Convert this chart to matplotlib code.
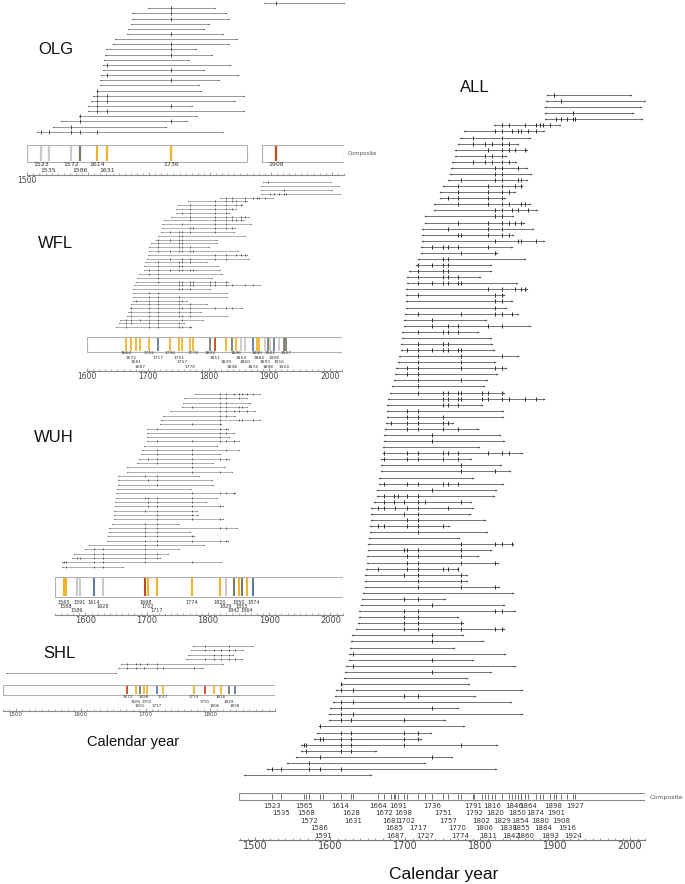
import matplotlib
matplotlib.use("Agg")
import matplotlib.pyplot as plt
from matplotlib.patches import Rectangle
from matplotlib.ticker import MultipleLocator

# ------------------------------------------------------------------ data
# OLG site: series listed top -> bottom (latest inner year first)
olg_start = [1888, 1699, 1672, 1672, 1670, 1665, 1663, 1644, 1641, 1629, 1628, 1626, 1625,
             1625, 1621, 1620, 1619, 1614, 1608, 1604, 1600, 1599, 1585, 1555, 1542, 1516]
olg_end = [2020, 1808, 1827, 1832, 1799, 1790, 1821, 1844, 1832, 1777, 1804, 1765, 1833,
           1790, 1846, 1815, 1782, 1785, 1856, 1841, 1771, 1856, 1778, 1763, 1727, 1821]
olg_scars = [[1908], [1736], [1736], [1736], [], [], [1736], [], [1736], [1736], [1736], [],
             [1631], [1736], [1631], [1736], [], [1614], [1614, 1631], [1614, 1631],
             [1614, 1736], [1614, 1631], [1586], [1586, 1736], [1572],
             [1523, 1535, 1572, 1586, 1614]]
olg_comp_years = [1523, 1535, 1572, 1586, 1614, 1631, 1736, 1908]
olg_comp_codes = ['l', 'l', 'l', 'g', 'o', 'o', 'o', 'r']
olg_record_spans = [(1500, 1861), (1886, 2020)]

# WFL site
wfl_start = [1889, 1887, 1886, 1886, 1819, 1767, 1750, 1747, 1746, 1738, 1726, 1723, 1723,
             1721, 1717, 1714, 1705, 1702, 1702, 1701, 1698, 1696, 1694, 1694, 1686, 1683,
             1680, 1677, 1676, 1676, 1676, 1675, 1673, 1670, 1668, 1665, 1654, 1653, 1648]
wfl_end = [2001, 2015, 2004, 2016, 1906, 1863, 1856, 1846, 1833, 1866, 1858, 1870, 1844,
           1842, 1860, 1814, 1814, 1800, 1849, 1863, 1866, 1797, 1816, 1819, 1822, 1805,
           1832, 1885, 1803, 1830, 1830, 1764, 1797, 1856, 1788, 1830, 1791, 1759, 1771]
wfl_scars = [
    [1898], [], [1924], [1901, 1908, 1916, 1924, 1927],
    [1829, 1838, 1860, 1874, 1880, 1884, 1893],
    [1811, 1829, 1838, 1846, 1860],
    [1770, 1811, 1829, 1846, 1854],
    [1770, 1811, 1829, 1838],
    [1757, 1770, 1811, 1829],
    [1770, 1811, 1829, 1838, 1854, 1860],
    [1770, 1811, 1829, 1838, 1846, 1854],
    [1757, 1811, 1829],
    [1770, 1774, 1811, 1829, 1838],
    [1736, 1751, 1757, 1770, 1811],
    [1751, 1757],
    [1717, 1736, 1751, 1757],
    [1717, 1751, 1757],
    [1717, 1751, 1757, 1770],
    [1717, 1736, 1751, 1757, 1770, 1774],
    [1811, 1829, 1846, 1854, 1860],
    [1736, 1757, 1770, 1811, 1829],
    [1717, 1751, 1757, 1770],
    [1717, 1751, 1757],
    [1702, 1717, 1736, 1751, 1757, 1770, 1774],
    [1702, 1717],
    [1717],
    [1717, 1751, 1757, 1770, 1774, 1802, 1811, 1829],
    [1751, 1757, 1770, 1774, 1802, 1811, 1829, 1838, 1860, 1874],
    [1751, 1757, 1770],
    [1702, 1717],
    [1702, 1717, 1751],
    [1681, 1702, 1717, 1751, 1757],
    [1702, 1717, 1751, 1770],
    [1672, 1702, 1717, 1751, 1757, 1770, 1811, 1829, 1838],
    [1672, 1702, 1717, 1751, 1770],
    [1672, 1702, 1717, 1751, 1757, 1770],
    [1664, 1672, 1687, 1702, 1717, 1757],
    [1664, 1672, 1702, 1717, 1751],
    [1664, 1702, 1717, 1751, 1757, 1770]]
wfl_comp_years = [1664, 1672, 1681, 1687, 1702, 1717, 1736, 1751, 1757, 1770, 1774, 1802,
                  1811, 1829, 1838, 1846, 1854, 1860, 1874, 1880, 1884, 1893, 1898, 1901,
                  1908, 1916, 1924, 1927]
wfl_comp_codes = ['o', 'o', 'o', 'o', 'o', 'b', 'o', 'o', 'o', 'o', 'o', 'g',
                  'r', 'o', 'g', 'o', 'l', 'l', 'b', 'o', 'o', 'l', 'g', 'l',
                  'b', 'l', 'g', 'g']
wfl_record_spans = [(1600, 2020)]

# WUH site
wuh_start = [1779, 1761, 1760, 1757, 1738, 1727, 1723, 1721, 1701, 1701, 1701, 1700, 1696,
             1692, 1690, 1688, 1685, 1668, 1668, 1654, 1654, 1653, 1652, 1650, 1650, 1649,
             1649, 1647, 1646, 1646, 1643, 1638, 1638, 1637, 1635, 1606, 1599, 1582, 1578,
             1561, 1561]
wuh_end = [1885, 1863, 1868, 1863, 1876, 1844, 1885, 1822, 1832, 1842, 1835, 1850, 1814,
           1850, 1820, 1834, 1809, 1828, 1840, 1786, 1806, 1809, 1772, 1844, 1814, 1797,
           1824, 1782, 1783, 1825, 1753, 1847, 1770, 1777, 1832, 1793, 1753, 1734, 1721,
           1822, 1661]
wuh_scars = [
    [1820, 1829, 1842, 1850, 1855, 1864, 1874],
    [1820, 1829, 1850],
    [1820, 1829],
    [1774, 1820, 1829, 1850, 1855],
    [1820, 1829, 1842, 1850, 1864],
    [1820, 1829],
    [1820, 1850, 1855, 1874],
    [1774, 1820],
    [1717, 1820, 1829],
    [1820, 1829],
    [1820],
    [1717, 1774, 1820, 1829, 1842],
    [],
    [1717, 1774, 1829],
    [1717, 1774],
    [1702, 1717, 1774, 1820, 1829],
    [1717, 1774],
    [1774],
    [1774, 1820],
    [1698, 1717],
    [1702, 1717],
    [1717],
    [],
    [1774, 1820, 1829, 1842],
    [1698, 1702, 1717, 1774],
    [1702, 1717, 1774],
    [1702, 1717, 1774, 1820],
    [1698, 1717, 1774],
    [1717, 1774],
    [1717, 1774, 1820],
    [1698, 1717],
    [1698, 1717, 1820, 1829],
    [1698, 1717],
    [1698, 1717, 1774],
    [1698, 1717, 1774, 1820, 1829],
    [1698, 1717],
    [1614, 1628, 1698],
    [1614, 1628, 1698, 1717],
    [1586, 1591, 1614, 1628, 1698, 1717],
    [1565, 1568, 1614, 1628, 1698, 1774],
    [1568, 1614, 1628]]
wuh_comp_years = [1565, 1568, 1586, 1591, 1614, 1628, 1698, 1702, 1717, 1774, 1820, 1829,
                  1842, 1850, 1855, 1864, 1874]
wuh_comp_codes = ['o', 'o', 'l', 'l', 'b', 'l', 'r', 'o', 'o', 'o', 'o', 'l',
                  'g', 'o', 'g', 'o', 'b']
wuh_record_spans = [(1550, 2020)]

# SHL site
shl_start = [1773, 1770, 1766, 1762, 1663, 1658, 1485]
shl_end = [1866, 1851, 1835, 1848, 1819, 1788, 1655]
shl_scars = [[1791, 1829],
             [1791, 1806, 1816, 1829, 1838],
             [1806, 1816, 1829],
             [1791, 1806, 1816, 1829, 1838],
             [1672, 1685, 1691, 1702, 1717],
             [1672, 1685, 1698, 1717, 1727, 1774],
             []]
shl_comp_years = [1672, 1685, 1691, 1698, 1702, 1717, 1727, 1774, 1791, 1806, 1816, 1829, 1838]
shl_comp_codes = ['r', 'o', 'g', 'o', 'o', 'b', 'o', 'o', 'r', 'o', 'o', 'g', 'b']
shl_record_spans = [(1480, 1900)]

# ALL sites composite
all_comp_years = [1523, 1535, 1565, 1568, 1572, 1586, 1591, 1614, 1628, 1631, 1664, 1672,
                  1681, 1685, 1687, 1691, 1698, 1702, 1717, 1727, 1736, 1751, 1757, 1770,
                  1774, 1791, 1792, 1802, 1806, 1811, 1816, 1820, 1829, 1838, 1842, 1846,
                  1850, 1854, 1855, 1860, 1864, 1874, 1880, 1884, 1893, 1898, 1901, 1908,
                  1916, 1924, 1927]
all_record_spans = [(1479, 2020)]

major_ticks = [1500, 1600, 1700, 1800, 1900, 2000]

# ------------------------------------------------------------------ styling
CODE_COLORS = {'o': '#F0B429', 'r': '#C9471C', 'b': '#5F7D9C', 'g': '#7A7C6A', 'l': '#C9C9C9'}
W, H = 685, 884
fig = plt.figure(figsize=(W / 100, H / 100), dpi=100)
fig.patch.set_facecolor('white')
SANS = 'Liberation Sans'


def add_px_axes(x0, y0, x1, y1):
    ax = fig.add_axes([x0 / W, 1 - y1 / H, (x1 - x0) / W, (y1 - y0) / H])
    ax.set_facecolor('none')
    return ax


def label_rows(years, max_rows, gap=19):
    rows, prev, r = [], None, 0
    for yr in years:
        if prev is not None and yr - prev < gap:
            r = (r + 1) % max_rows
        else:
            r = 0
        rows.append(r)
        prev = yr
    return rows


def panel(px0, yr0, scale, xlim, starts, ends, scars, rows_top, rows_bot,
          comp_years, comp_colors, spans, box_top, box_bot, axis_y,
          lab_y0, lab_step, max_rows, lab_fs, tick_fs, show_labels,
          line_col, lw, ms_end, ms_scar, mew, ev_lw, box_ec, tick_col='#8a8a8a'):
    xl = px0 + scale * (xlim[0] - yr0)
    xr = px0 + scale * (xlim[1] - yr0)
    n = len(starts)
    sp = (rows_bot - rows_top) / (n - 1)
    ax = add_px_axes(xl, rows_top - sp / 2, xr, rows_bot + sp / 2)
    for i in range(n):
        y = n - 1 - i
        ax.plot([starts[i], ends[i]], [y, y], color=line_col, lw=lw,
                solid_capstyle='butt', zorder=1)
        ax.plot([starts[i]], [y], marker='<', ms=ms_end, color='#444444', mew=0, zorder=2)
        ax.plot([ends[i]], [y], marker='>', ms=ms_end, color='#444444', mew=0, zorder=2)
        if scars[i]:
            ax.plot(scars[i], [y] * len(scars[i]), ls='none', marker='|', ms=ms_scar,
                    mew=mew, color='#2a2a2a', zorder=3)
    ax.set_xlim(*xlim)
    ax.set_ylim(-0.5, n - 0.5)
    ax.axis('off')

    cax = add_px_axes(xl, box_top, xr, axis_y)
    for a, b in spans:
        cax.add_patch(Rectangle((a, box_top), b - a, box_bot - box_top, fc='white',
                                ec=box_ec, lw=0.8, zorder=1))
    cax.vlines(comp_years, box_top + 0.6, box_bot - 0.6, colors=comp_colors, lw=ev_lw, zorder=2)
    for yr, r in zip(comp_years, label_rows(comp_years, max_rows)):
        cax.text(yr, lab_y0 + r * lab_step, str(yr), ha='center', va='center',
                 fontsize=lab_fs, color='#333333', family='DejaVu Sans')
    for s in ('left', 'right', 'top'):
        cax.spines[s].set_visible(False)
    cax.spines['bottom'].set_color(tick_col)
    cax.spines['bottom'].set_linewidth(0.8)
    cax.set_yticks([])
    ticks = [t for t in major_ticks if xlim[0] <= t <= xlim[1]]
    cax.set_xticks(ticks)
    cax.set_xticklabels([str(t) if t in show_labels else '' for t in ticks],
                        fontsize=tick_fs, color='#444444', family='DejaVu Sans')
    cax.xaxis.set_minor_locator(MultipleLocator(10))
    cax.tick_params(axis='x', which='major', direction='in', length=2.5, width=0.6,
                    color=tick_col, pad=1)
    cax.tick_params(axis='x', which='minor', direction='in', length=1.2, width=0.5,
                    color=tick_col)
    cax.set_xlim(*xlim)
    cax.set_ylim(axis_y, box_top)
    return ax, cax


def codes(c):
    return [CODE_COLORS[k] for k in c]


# OLG
panel(27.3, 1500, 0.609, (1500, 2020), olg_start, olg_end, olg_scars, 3.2, 131.7,
      olg_comp_years, codes(olg_comp_codes), olg_record_spans, 145, 162, 175,
      164.5, 6.3, 2, 4.5, 5.5, [1500],
      '#858585', 0.6, 1.1, 2.2, 0.55, 1.6, '#b0b0b0')
# WFL
panel(87.1, 1600, 0.607, (1600, 2020), wfl_start, wfl_end, wfl_scars, 182.3, 327.3,
      wfl_comp_years, codes(wfl_comp_codes), wfl_record_spans, 337, 352, 370.5,
      353.3, 4.5, 4, 3.2, 5.5, [1600, 1700, 1800, 1900, 2000],
      '#909090', 0.5, 0.9, 1.5, 0.5, 1.3, '#b0b0b0')
# WUH
panel(85.4, 1600, 0.6127, (1550, 2020), wuh_start, wuh_end, wuh_scars, 394, 566.7,
      wuh_comp_years, codes(wuh_comp_codes), wuh_record_spans, 577, 597, 615,
      602, 4.4, 3, 3.5, 6, [1600, 1700, 1800, 1900, 2000],
      '#8e8e8e', 0.5, 1.0, 1.7, 0.5, 1.5, '#b0b0b0')
# SHL
panel(15.7, 1500, 0.649, (1480, 1900), shl_start, shl_end, shl_scars, 646, 672.7,
      shl_comp_years, codes(shl_comp_codes), shl_record_spans, 685, 695, 711,
      697.3, 4.4, 3, 3.0, 4, [1500, 1600, 1700, 1800],
      '#888888', 0.5, 1.0, 1.8, 0.5, 1.3, '#b0b0b0')

# ALL: every series of the four sites, sorted by inner year (latest on top)
all_series = []
for st, en, sc in ((olg_start, olg_end, olg_scars), (wfl_start, wfl_end, wfl_scars),
                   (wuh_start, wuh_end, wuh_scars), (shl_start, shl_end, shl_scars)):
    all_series += list(zip(st, en, sc))
all_series.sort(key=lambda t: -t[0])
all_start = [t[0] for t in all_series]
all_end = [t[1] for t in all_series]
all_scars = [t[2] for t in all_series]
panel(255, 1500, 0.75, (1479, 2020), all_start, all_end, all_scars, 95, 775,
      all_comp_years, ['#555555'] * len(all_comp_years), all_record_spans, 793, 800, 840,
      805.5, 7.5, 5, 5.0, 7, major_ticks,
      '#727272', 0.7, 1.5, 3.2, 0.7, 0.6, '#8a8a8a', tick_col='#777777')

# ------------------------------------------------------------------ texts
def ftext(x, y, s, **kw):
    fig.text(x / W, 1 - y / H, s, **kw)


for name, x, y in (('OLG', 38, 50), ('WFL', 38, 243), ('WUH', 34, 438),
                   ('SHL', 43, 653), ('ALL', 460, 87)):
    ftext(x, y, name, fontsize=12, family=SANS, ha='left', va='center', color='#111111')
ftext(348, 154, 'Composite', fontsize=4, family='DejaVu Sans', ha='left', va='center',
      color='#555555')
ftext(650, 797, 'Composite', fontsize=4.5, family='DejaVu Sans', ha='left', va='center',
      color='#555555')
ftext(133, 742, 'Calendar year', fontsize=10.5, family=SANS, ha='center', va='center',
      color='#111111')
ftext(444, 875, 'Calendar year', fontsize=12.5, family=SANS, ha='center', va='center',
      color='#111111')

fig.savefig('out.png', dpi=100, facecolor='white')
